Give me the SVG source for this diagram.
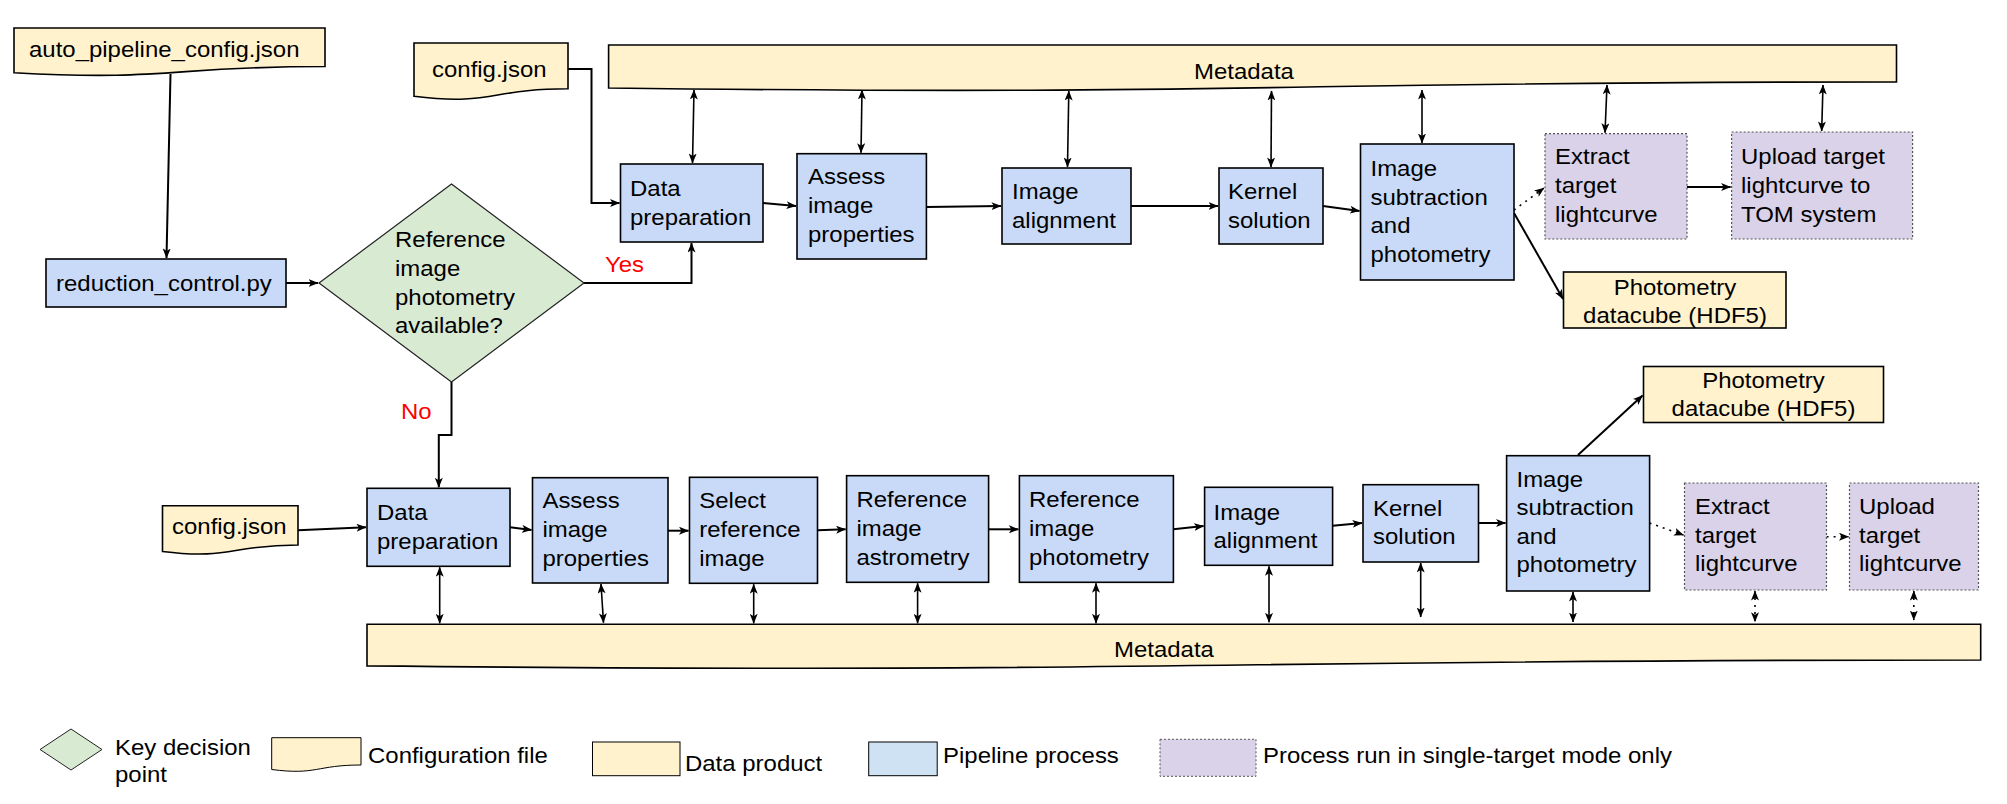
<svg xmlns="http://www.w3.org/2000/svg" width="2007" height="804" viewBox="0 0 2007 804">
<style>
.t{font-family:"Liberation Sans",Arial,sans-serif;font-size:21.4px;fill:#000;transform-box:fill-box;transform-origin:0 0;transform:scaleX(1.12)}
.tc{text-anchor:middle;transform-origin:50% 0}
.red{fill:#ff0000}
.y{fill:#fff2cc;stroke:#000;stroke-width:1.6}
.b{fill:#c9daf8;stroke:#000;stroke-width:1.6}
.p{fill:#d9d2e9;stroke:#555;stroke-width:1.2;stroke-dasharray:2 2}
.g{fill:#d9ead3;stroke:#222;stroke-width:1.2}
.c{fill:none;stroke:#000;stroke-width:2;marker-end:url(#ah)}
.bi{fill:none;stroke:#000;stroke-width:1.6;marker-end:url(#ah);marker-start:url(#ah)}
.d{fill:none;stroke:#000;stroke-width:1.6;stroke-dasharray:2 5;marker-end:url(#ah)}
.dbi{fill:none;stroke:#000;stroke-width:1.6;stroke-dasharray:2 5;marker-end:url(#ah);marker-start:url(#ah)}
</style>
<defs>
<marker id="ah" viewBox="0 0 10 8" refX="9.5" refY="4" markerWidth="10" markerHeight="8" markerUnits="userSpaceOnUse" orient="auto-start-reverse">
<path d="M0,0 L10,4 L0,8 L2.5,4 Z" fill="#000"/>
</marker>
</defs>
<rect width="2007" height="804" fill="#fff"/>

<g id="connectors">
<path class="c" d="M170.5,74 L166.5,258"/>
<path class="c" d="M286,283 L318,283"/>
<path class="c" d="M584,283 H691.5 V243"/>
<path class="c" d="M568,69 H591.5 V203 H619.5"/>
<path class="c" d="M763,203 L796,206"/>
<path class="c" d="M926.4,207 L1001,206"/>
<path class="c" d="M1131,206 L1218,206"/>
<path class="c" d="M1323,206 L1359.5,211"/>
<path class="d" d="M1514,210 L1544,188"/>
<path class="c" d="M1514,213 L1563,299"/>
<path class="c" d="M1687,187 L1730.6,187"/>
<path class="bi" d="M694,90 L692.5,163"/>
<path class="bi" d="M862,90 L861,152.7"/>
<path class="bi" d="M1068.8,91 L1067.5,167"/>
<path class="bi" d="M1271.5,91 L1271,167"/>
<path class="bi" d="M1422,90 L1422,143"/>
<path class="bi" d="M1607,85 L1605,132.7"/>
<path class="bi" d="M1823,85 L1821.7,131"/>

<path class="c" d="M451.5,382 V435 H438.8 V487.3"/>
<path class="c" d="M298,530.3 L366,527.3"/>
<path class="c" d="M510,527.3 L531.5,530"/>
<path class="c" d="M668,530.7 L688.5,530.7"/>
<path class="c" d="M817.6,530.3 L845.6,529.3"/>
<path class="c" d="M988.5,529.3 L1018.4,529.3"/>
<path class="c" d="M1173.4,529.3 L1203.6,526"/>
<path class="c" d="M1332.7,525.7 L1362,523"/>
<path class="c" d="M1478.5,523 L1505.6,523"/>
<path class="c" d="M1578,455 L1642.5,395.5"/>
<path class="d" d="M1649.5,523 L1683.5,535"/>
<path class="d" d="M1826.6,536.7 L1848.5,536.7"/>
<path class="bi" d="M439.7,567.3 L439.7,623.3"/>
<path class="bi" d="M601,584 L603.5,622.7"/>
<path class="bi" d="M753.7,584.3 L753.7,623.3"/>
<path class="bi" d="M917.6,583.3 L917.6,623.3"/>
<path class="bi" d="M1096,583.3 L1096,623.3"/>
<path class="bi" d="M1269,566.3 L1269,622.3"/>
<path class="bi" d="M1420.7,563 L1420.7,617"/>
<path class="bi" d="M1573,592 L1573,622"/>
<path class="dbi" d="M1755,591 L1755,621.7"/>
<path class="dbi" d="M1913.8,591 L1913.8,620"/>
</g>

<g id="n_auto">
<path class="y" d="M14,28 H325 V66.5 C169.5,66.5 169.5,81.2 14,72.8 Z"/>
<text class="t" x="29" y="57">auto_pipeline_config.json</text>
</g>
<g id="n_cfg1">
<path class="y" d="M414,43 H568 V88.7 C491,88.7 491,106.1 414,96.2 Z"/>
<text class="t" x="432" y="77">config.json</text>
</g>
<g id="n_red">
<rect class="b" x="46" y="259" width="240" height="48"/>
<text class="t" x="56" y="291">reduction_control.py</text>
</g>
<g id="n_dec">
<polygon class="g" points="451.5,184 584,283 451.5,382 319,283"/>
<text class="t" x="395" y="247">Reference<tspan x="395" dy="29">image</tspan><tspan x="395" dy="29">photometry</tspan><tspan x="395" dy="28">available?</tspan></text>
</g>
<g id="l_yes"><text class="t red" x="605" y="272">Yes</text></g>
<g id="l_no"><text class="t red" x="401" y="419">No</text></g>
<g id="n_meta1">
<path class="y" d="M608.6,45 H1896.5 V81.9 C1252.5,81.9 1252.5,95.9 608.6,88 Z"/>
<text class="t tc" x="1244" y="79">Metadata</text>
</g>
<g id="n_dp1">
<rect class="b" x="620.5" y="164" width="142.5" height="78"/>
<text class="t" x="630" y="196">Data<tspan x="630" dy="29">preparation</tspan></text>
</g>
<g id="n_as1">
<rect class="b" x="797" y="153.7" width="129.4" height="105.3"/>
<text class="t" x="808" y="184">Assess<tspan x="808" dy="29">image</tspan><tspan x="808" dy="29">properties</tspan></text>
</g>
<g id="n_ia1">
<rect class="b" x="1002" y="168" width="129" height="76"/>
<text class="t" x="1012" y="199">Image<tspan x="1012" dy="29">alignment</tspan></text>
</g>
<g id="n_ks1">
<rect class="b" x="1219" y="168" width="104" height="76"/>
<text class="t" x="1228" y="199">Kernel<tspan x="1228" dy="29">solution</tspan></text>
</g>
<g id="n_is1">
<rect class="b" x="1360.5" y="144" width="153.5" height="136"/>
<text class="t" x="1370.5" y="176.5">Image<tspan x="1370.5" dy="28.5">subtraction</tspan><tspan x="1370.5" dy="28.5">and</tspan><tspan x="1370.5" dy="28.5">photometry</tspan></text>
</g>
<g id="n_ex1">
<rect class="p" x="1545" y="133.7" width="142" height="105.3"/>
<text class="t" x="1555" y="164">Extract<tspan x="1555" dy="29">target</tspan><tspan x="1555" dy="29">lightcurve</tspan></text>
</g>
<g id="n_up1">
<rect class="p" x="1731.6" y="132" width="181" height="107"/>
<text class="t" x="1741" y="164">Upload target<tspan x="1741" dy="29">lightcurve to</tspan><tspan x="1741" dy="29">TOM system</tspan></text>
</g>
<g id="n_pd1">
<rect class="y" x="1563.5" y="272" width="222.5" height="56"/>
<text class="t tc" x="1675" y="295">Photometry<tspan x="1675" dy="28">datacube (HDF5)</tspan></text>
</g>

<g id="n_cfg2">
<path class="y" d="M162.5,505.7 H298 V545 C230.2,545 230.2,559.9 162.5,551.5 Z"/>
<text class="t" x="172" y="534">config.json</text>
</g>
<g id="n_dp2">
<rect class="b" x="367" y="488.3" width="143" height="78"/>
<text class="t" x="377" y="520">Data<tspan x="377" dy="29">preparation</tspan></text>
</g>
<g id="n_as2">
<rect class="b" x="532.5" y="477.7" width="135.5" height="105.3"/>
<text class="t" x="542.4" y="508.3">Assess<tspan x="542.4" dy="29">image</tspan><tspan x="542.4" dy="29">properties</tspan></text>
</g>
<g id="n_sel">
<rect class="b" x="689.5" y="477.3" width="128" height="106"/>
<text class="t" x="699.3" y="508.3">Select<tspan x="699.3" dy="29">reference</tspan><tspan x="699.3" dy="29">image</tspan></text>
</g>
<g id="n_ast">
<rect class="b" x="846.6" y="475.7" width="142" height="106.6"/>
<text class="t" x="856.4" y="506.7">Reference<tspan x="856.4" dy="29">image</tspan><tspan x="856.4" dy="29">astrometry</tspan></text>
</g>
<g id="n_rph">
<rect class="b" x="1019.4" y="475.7" width="154" height="106.6"/>
<text class="t" x="1029" y="506.7">Reference<tspan x="1029" dy="29">image</tspan><tspan x="1029" dy="29">photometry</tspan></text>
</g>
<g id="n_ia2">
<rect class="b" x="1204.6" y="487.3" width="128" height="78"/>
<text class="t" x="1213.5" y="520">Image<tspan x="1213.5" dy="28.5">alignment</tspan></text>
</g>
<g id="n_ks2">
<rect class="b" x="1363" y="484.7" width="115.5" height="77.3"/>
<text class="t" x="1373" y="515.7">Kernel<tspan x="1373" dy="28.5">solution</tspan></text>
</g>
<g id="n_is2">
<rect class="b" x="1506.6" y="455.7" width="143" height="135.3"/>
<text class="t" x="1516.5" y="486.7">Image<tspan x="1516.5" dy="28.5">subtraction</tspan><tspan x="1516.5" dy="28.5">and</tspan><tspan x="1516.5" dy="28.5">photometry</tspan></text>
</g>
<g id="n_ex2">
<rect class="p" x="1684.5" y="483" width="142" height="107"/>
<text class="t" x="1695" y="514">Extract<tspan x="1695" dy="28.7">target</tspan><tspan x="1695" dy="28.7">lightcurve</tspan></text>
</g>
<g id="n_up2">
<rect class="p" x="1849.5" y="483" width="129" height="107"/>
<text class="t" x="1859" y="514">Upload<tspan x="1859" dy="28.7">target</tspan><tspan x="1859" dy="28.7">lightcurve</tspan></text>
</g>
<g id="n_pd2">
<rect class="y" x="1643.5" y="366.5" width="240" height="56"/>
<text class="t tc" x="1763.5" y="388">Photometry<tspan x="1763.5" dy="28.5">datacube (HDF5)</tspan></text>
</g>
<g id="n_meta2">
<path class="y" d="M367,624.3 H1980.7 V660 C1173.9,660 1173.9,673.6 367,665.9 Z"/>
<text class="t tc" x="1164" y="656.7">Metadata</text>
</g>

<g id="legend">
<polygon class="g" points="71,729 102,749.5 71,770 40,749.5" style="stroke-width:1"/>
<text class="t" x="115" y="755">Key decision<tspan x="115" dy="27">point</tspan></text>
<path class="y" d="M271.7,737.7 H361 V765 C316.4,765 316.4,775.4 271.7,769.5 Z" style="stroke-width:1"/>
<text class="t" x="368" y="763">Configuration file</text>
<rect class="y" x="592.5" y="742" width="87.5" height="33.7" style="stroke-width:1"/>
<text class="t" x="685" y="771.5">Data product</text>
<rect x="868.7" y="742" width="68.5" height="33.7" fill="#cfe2f3" stroke="#000" stroke-width="1"/>
<text class="t" x="943" y="763">Pipeline process</text>
<rect class="p" x="1160" y="739.3" width="96" height="37" style="stroke-width:1"/>
<text class="t" x="1263" y="763">Process run in single-target mode only</text>
</g>
</svg>
